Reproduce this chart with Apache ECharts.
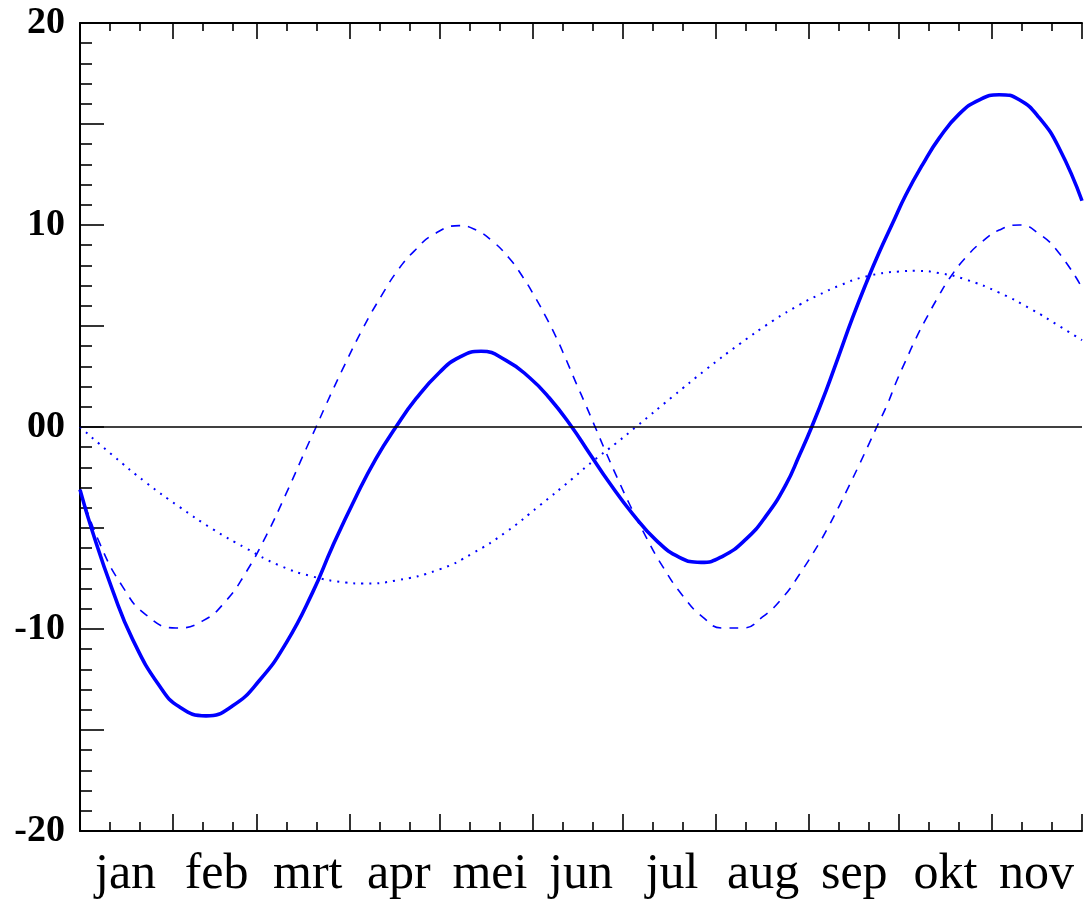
<!DOCTYPE html>
<html>
<head>
<meta charset="utf-8">
<script src="https://cdn.jsdelivr.net/npm/echarts@6/dist/echarts.min.js"></script>
<style>
html,body{margin:0;padding:0;background:#fff;}
#chart{width:1086px;height:900px;}
</style>
</head>
<body>
<div id="chart"></div>
<script>
// Month labels (Dutch) and month start days (day 0 = 1 jan, day 334 = 1 dec)
const monthLabels = ['jan','feb','mrt','apr','mei','jun','jul','aug','sep','okt','nov'];
const monthStarts = [0,31,59,90,120,151,181,212,243,273,304,334];
const yTickLabels = {'20':'20','10':'10','0':'00','-10':'-10','-20':'-20'};

// Solid (thick) curve
const solidDays   = [0,4.2,10.9,17.5,26.4,33.1,42,50.9,59.8,68.7,77.5,84.2,92,98.7,105.3,112,119.8,126.4,133.7,142,149.8,156.4,163.7,169.8,176.4,184.2,192,199.8,207,214.2,222,228.7,235.3,239.8,243.9,248.7,253.1,257.5,262,266.4,270.9,275.3,280.9,286.4,293.1,299.8,306.4,313.1,319.8,326.4,334];
const solidValues = [-3.1,-5.2,-8.1,-10.5,-12.8,-13.85,-14.3,-13.8,-12.55,-10.7,-8.2,-5.9,-3.45,-1.55,0,1.4,2.7,3.45,3.75,3.3,2.45,1.45,0.05,-1.3,-2.75,-4.3,-5.6,-6.45,-6.7,-6.4,-5.55,-4.4,-2.85,-1.4,0,1.8,3.6,5.4,7.1,8.65,10.1,11.5,13.0,14.3,15.5,16.2,16.45,16.2,15.3,13.8,11.2];

// Dashed curve
const dashedDays   = [0,6.4,14.2,22,32,40.9,48.7,55.3,62,68.7,75.3,78.7,82,87.5,94.2,100.9,106.4,112,117.5,126.4,132,137.5,143.1,147.5,152,155.3,158.7,162,165.3,168.7,172,175.3,179.8,183.1,188.7,194.2,200.9,207.5,214.2,220.9,227.5,234.2,239.8,246.4,249.8,253.1,256.4,259.8,263.1,265.9,269.2,272,275.3,278.7,282,285.9,289.8,295.3,300.9,306.4,313.1,319.8,326.4,334];
const dashedValues = [-3.1,-5.7,-7.9,-9.3,-9.95,-9.6,-8.6,-7.2,-5.4,-3.3,-1.1,0,1.1,2.85,4.85,6.6,7.85,8.8,9.5,9.97,9.75,9.2,8.35,7.45,6.35,5.45,4.45,3.35,2.2,1.05,-0.1,-1.25,-2.75,-3.8,-5.45,-6.9,-8.35,-9.4,-9.95,-9.95,-9.4,-8.45,-7.3,-5.75,-4.85,-3.9,-2.9,-1.85,-0.8,0.1,1.15,2.2,3.3,4.4,5.35,6.4,7.35,8.4,9.2,9.75,10.0,9.55,8.6,6.9];

// Dotted curve
const dottedDays   = [0,10.9,22,33.1,44.2,55.3,66.4,77.5,88.7,94.2,105.3,119.8,130.9,142,153.1,164.2,170.9,178.7,185.3,197.5,208.7,219.8,230.9,239.8,246.4,253.1,262,273.1,278.7,286.4,295.3,306.4,317.5,326.4,334];
const dottedValues = [0,-1.4,-2.75,-3.95,-5.05,-6.0,-6.85,-7.4,-7.7,-7.75,-7.6,-7.05,-6.25,-5.2,-3.9,-2.55,-1.7,-0.8,0,1.5,2.85,4.1,5.25,6.05,6.55,7.0,7.45,7.7,7.73,7.62,7.3,6.65,5.8,5.0,4.3];

const pair = (xs, ys) => xs.map((x, i) => [x, ys[i]]);
const minorDays = [];
monthStarts.slice(0, 11).forEach(d => { minorDays.push(d + 10, d + 20); });

const G = {left: 80, top: 23, width: 1002, height: 808};
const DMAX = monthStarts[monthStarts.length - 1];
const BLACK = '#000';
const BLUE = '#0000ff';

function xVal(gridIndex, position, ticks, len, showLine) {
  return {
    type: 'value', gridIndex, position, min: 0, max: DMAX,
    axisLine: {show: showLine, onZero: false, lineStyle: {color: BLACK, width: 2}},
    axisTick: {show: true, inside: true, length: len, customValues: ticks, lineStyle: {color: BLACK, width: 1.6}},
    axisLabel: {show: false},
    splitLine: {show: false}
  };
}

const chart = echarts.init(document.getElementById('chart'), null, {renderer: 'canvas'});
chart.setOption({
  animation: false,
  backgroundColor: '#fff',
  grid: [Object.assign({}, G), Object.assign({}, G), Object.assign({}, G)],
  xAxis: [
    xVal(0, 'bottom', monthStarts, 17, true),
    xVal(0, 'top', monthStarts, 16, true),
    xVal(1, 'bottom', minorDays, 9, false),
    xVal(1, 'top', minorDays, 8, false),
    {
      type: 'category', gridIndex: 2, position: 'bottom', data: monthLabels, boundaryGap: true,
      axisLine: {show: false, onZero: false}, axisTick: {show: false},
      axisLabel: {show: true, interval: 0, margin: 22, color: BLACK, fontSize: 50, fontFamily: 'Liberation Serif'},
      splitLine: {show: false}
    }
  ],
  yAxis: [
    {
      type: 'value', gridIndex: 0, position: 'left', min: -20, max: 20, interval: 5,
      axisLine: {show: true, onZero: false, lineStyle: {color: BLACK, width: 2}},
      axisTick: {show: true, inside: true, length: 24, lineStyle: {color: BLACK, width: 1.6}},
      minorTick: {show: true, splitNumber: 5, length: 12, lineStyle: {color: BLACK, width: 1.6}},
      axisLabel: {
        show: true, margin: 15, color: BLACK, fontSize: 38, fontWeight: 'bold', fontFamily: 'Liberation Serif',
        formatter: v => (yTickLabels[String(v)] !== undefined ? yTickLabels[String(v)] : '')
      },
      splitLine: {show: false}
    },
    {type: 'value', gridIndex: 1, min: -20, max: 20, show: false},
    {type: 'value', gridIndex: 2, min: -20, max: 20, show: false}
  ],
  series: [
    {
      type: 'line', xAxisIndex: 0, yAxisIndex: 0, data: pair(dottedDays, dottedValues),
      showSymbol: false, smooth: true, z: 2,
      lineStyle: {color: BLUE, width: 2, type: [2, 6]},
      markLine: {
        silent: true, symbol: ['none', 'none'], label: {show: false}, animation: false,
        lineStyle: {color: BLACK, width: 1.6, type: 'solid'},
        emphasis: {disabled: true},
        data: [{yAxis: 0}]
      }
    },
    {
      type: 'line', xAxisIndex: 0, yAxisIndex: 0, data: pair(dashedDays, dashedValues),
      showSymbol: false, smooth: true, z: 3,
      lineStyle: {color: BLUE, width: 1.6, type: [9, 8]}
    },
    {
      type: 'line', xAxisIndex: 0, yAxisIndex: 0, data: pair(solidDays, solidValues),
      showSymbol: false, smooth: true, z: 4,
      lineStyle: {color: BLUE, width: 3.6}
    }
  ]
});
</script>
</body>
</html>
